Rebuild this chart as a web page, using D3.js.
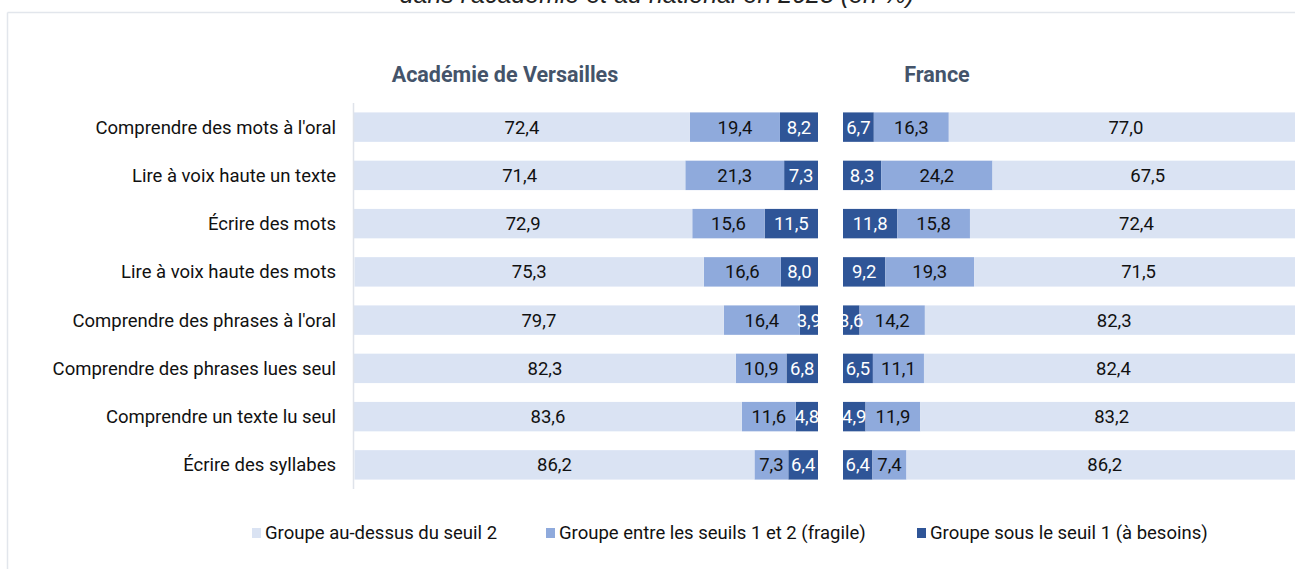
<!DOCTYPE html>
<html>
<head>
<meta charset="utf-8">
<script src="https://cdn.jsdelivr.net/npm/d3@7"></script>
<style>
  body { margin: 0; background: #fff; }
  svg { display: block; font-family: Roboto, "Noto Sans", sans-serif; }
</style>
</head>
<body>
<svg id="chart" width="1295" height="569"></svg>
<script>
// data
var categories = [
  "Comprendre des mots à l'oral",
  "Lire à voix haute un texte",
  "Écrire des mots",
  "Lire à voix haute des mots",
  "Comprendre des phrases à l'oral",
  "Comprendre des phrases lues seul",
  "Comprendre un texte lu seul",
  "Écrire des syllabes"
];
// Académie de Versailles
var versAbove = [72.4, 71.4, 72.9, 75.3, 79.7, 82.3, 83.6, 86.2];
var versFragile = [19.4, 21.3, 15.6, 16.6, 16.4, 10.9, 11.6, 7.3];
var versBesoins = [8.2, 7.3, 11.5, 8.0, 3.9, 6.8, 4.8, 6.4];
// France
var frAbove = [77.0, 67.5, 72.4, 71.5, 82.3, 82.4, 83.2, 86.2];
var frFragile = [16.3, 24.2, 15.8, 19.3, 14.2, 11.1, 11.9, 7.4];
var frBesoins = [6.7, 8.3, 11.8, 9.2, 3.6, 6.5, 4.9, 6.4];

var seriesNames = [
  "Groupe au-dessus du seuil 2",
  "Groupe entre les seuils 1 et 2 (fragile)",
  "Groupe sous le seuil 1 (à besoins)"
];
var colors = ["#dae3f3", "#8faadc", "#2f5597"];
var textColors = ["#111", "#111", "#fff"];

var svg = d3.select("#chart");
var fmt = function (v) { return d3.format(".1f")(v).replace(".", ","); };

// frame of the card
svg.append("line")
  .attr("x1", 7.5).attr("x2", 1295).attr("y1", 12.5).attr("y2", 12.5)
  .attr("stroke", "#e2e6ec").attr("stroke-width", 1.5);
svg.append("line")
  .attr("x1", 7.5).attr("x2", 7.5).attr("y1", 12.5).attr("y2", 569)
  .attr("stroke", "#e2e6ec").attr("stroke-width", 1.5);

// title, cut by the top of the picture
svg.append("text")
  .attr("x", 657).attr("y", 3)
  .attr("text-anchor", "middle")
  .attr("font-style", "italic")
  .attr("font-size", 25)
  .attr("fill", "#222")
  .style("font-family", "'Liberation Sans', Arial, sans-serif")
  .text("dans l'académie et au national en 2023 (en %)");

var y = d3.scaleBand()
  .domain(categories)
  .range([103, 489])
  .paddingInner(0.39)
  .paddingOuter(0.195);

var xL = d3.scaleLinear().domain([0, 100]).range([818, 354]);
var xR = d3.scaleLinear().domain([0, 100]).range([843, 1303]);

// panel headers
svg.append("text")
  .attr("x", 505).attr("y", 82)
  .attr("text-anchor", "middle")
  .attr("font-weight", "bold").attr("font-size", 21.5)
  .attr("fill", "#44546a")
  .text("Académie de Versailles");
svg.append("text")
  .attr("x", 937).attr("y", 82)
  .attr("text-anchor", "middle")
  .attr("font-weight", "bold").attr("font-size", 21.5)
  .attr("fill", "#44546a")
  .text("France");

// category labels
svg.append("g")
  .selectAll("text")
  .data(categories)
  .enter()
  .append("text")
  .attr("x", 336)
  .attr("y", function (d) { return y(d) + y.bandwidth() / 2; })
  .attr("dy", "0.35em")
  .attr("text-anchor", "end")
  .attr("font-size", 18.5)
  .attr("fill", "#111")
  .text(function (d) { return d; });

// build segments: order is besoins (next to the centre), fragile, above
function segments(besoins, fragile, above) {
  var out = [];
  categories.forEach(function (c, i) {
    var vals = [above[i], fragile[i], besoins[i]];
    var start = 0;
    [2, 1, 0].forEach(function (s) {
      out.push({ cat: c, s: s, v: vals[s], x0: start, x1: start + vals[s] });
      start += vals[s];
    });
  });
  return out;
}

function drawPanel(data, x) {
  var g = svg.append("g");
  g.selectAll("rect")
    .data(data)
    .enter()
    .append("rect")
    .attr("x", function (d) { return Math.min(x(d.x0), x(d.x1)); })
    .attr("width", function (d) { return Math.abs(x(d.x1) - x(d.x0)); })
    .attr("y", function (d) { return y(d.cat); })
    .attr("height", y.bandwidth())
    .attr("fill", function (d) { return colors[d.s]; });
  g.selectAll("text")
    .data(data)
    .enter()
    .append("text")
    .attr("x", function (d) { return (x(d.x0) + x(d.x1)) / 2; })
    .attr("y", function (d) { return y(d.cat) + y.bandwidth() / 2; })
    .attr("dy", "0.35em")
    .attr("text-anchor", "middle")
    .attr("font-size", 18.5)
    .attr("fill", function (d) { return textColors[d.s]; })
    .text(function (d) { return fmt(d.v); });
}

drawPanel(segments(versBesoins, versFragile, versAbove), xL);
drawPanel(segments(frBesoins, frFragile, frAbove), xR);

// axis line of the left panel
svg.append("line")
  .attr("x1", 353.5).attr("x2", 353.5).attr("y1", 103).attr("y2", 489)
  .attr("stroke", "#dfe3ea").attr("stroke-width", 1.5);

// legend
var legendX = [252, 546, 917];
var legend = svg.append("g")
  .selectAll("g")
  .data(seriesNames)
  .enter()
  .append("g")
  .attr("transform", function (d, i) { return "translate(" + legendX[i] + ",533)"; });
legend.append("rect")
  .attr("x", 0).attr("y", -5).attr("width", 9).attr("height", 10)
  .attr("fill", function (d, i) { return colors[i]; });
legend.append("text")
  .attr("x", 13).attr("dy", "0.33em")
  .attr("font-size", 18.5)
  .attr("fill", "#111")
  .text(function (d) { return d; });
</script>
</body>
</html>
